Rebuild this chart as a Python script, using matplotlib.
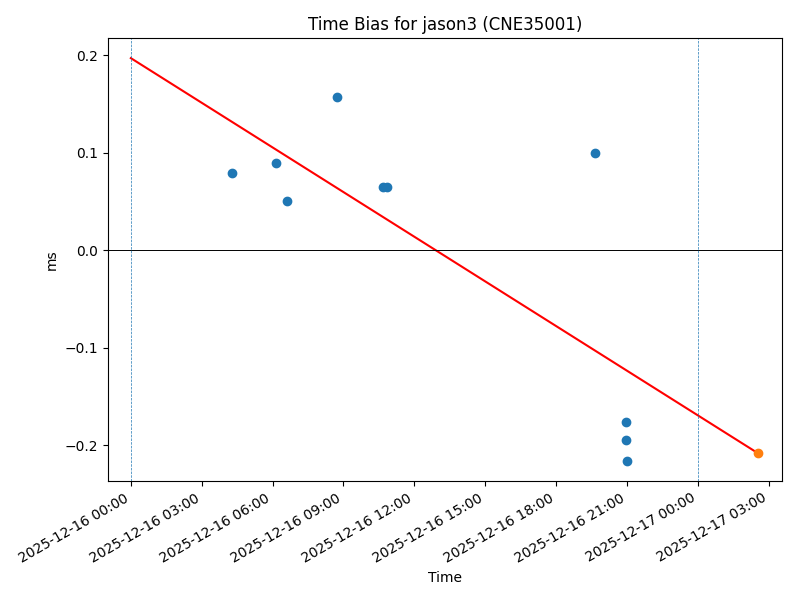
import matplotlib
matplotlib.use("Agg")
import matplotlib.pyplot as plt
import matplotlib.dates as mdates
import pandas as pd

# Observed time bias samples
obs_times = pd.to_datetime([
    "2025-12-16 04:17", "2025-12-16 06:08", "2025-12-16 06:36",
    "2025-12-16 08:43", "2025-12-16 10:40", "2025-12-16 10:50",
    "2025-12-16 19:39", "2025-12-16 20:57", "2025-12-16 20:57",
    "2025-12-16 21:00",
])
obs_bias = [0.079, 0.089, 0.051, 0.157, 0.065, 0.065, 0.0995, -0.176, -0.194, -0.216]

# Predicted point and trend line
pred_time = pd.to_datetime(["2025-12-17 02:33"])
pred_bias = [-0.208]
trend_times = pd.to_datetime(["2025-12-16 00:00", "2025-12-17 02:33"])
trend_bias = [0.197, -0.208]

# Day boundaries
day_marks = pd.to_datetime(["2025-12-16 00:00", "2025-12-17 00:00"])

fig, ax = plt.subplots(figsize=(8, 6), dpi=100)

ax.scatter(obs_times, obs_bias, color="C0", zorder=3)
ax.plot(trend_times, trend_bias, color="red")
ax.scatter(pred_time, pred_bias, color="C1", zorder=3)
ax.axhline(0, color="black", linewidth=0.7)
for d in day_marks:
    ax.axvline(d, color="C0", linestyle="--", linewidth=0.5)

ax.set_xlim(pd.Timestamp("2025-12-15 23:02"), pd.Timestamp("2025-12-17 03:34"))
ax.xaxis.set_major_locator(mdates.HourLocator(byhour=range(0, 24, 3)))
ax.xaxis.set_major_formatter(mdates.DateFormatter("%Y-%m-%d %H:%M"))
fig.autofmt_xdate()

ax.set_title("Time Bias for jason3 (CNE35001)")
ax.set_xlabel("Time")
ax.set_ylabel("ms")

fig.subplots_adjust(left=0.135, right=0.9775, top=0.9367, bottom=0.198)
fig.savefig("out.png")
